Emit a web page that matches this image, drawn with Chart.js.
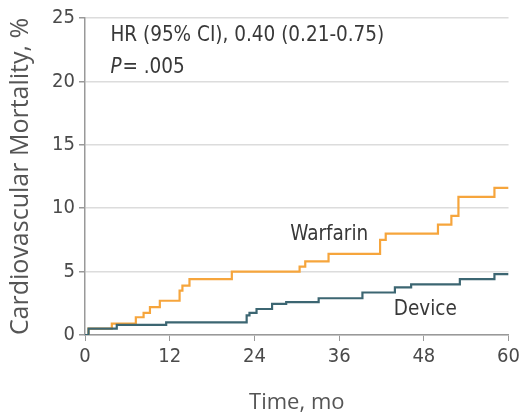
<!DOCTYPE html>
<html>
<head>
<meta charset="utf-8">
<script src="https://cdn.jsdelivr.net/npm/chart.js@4"></script>
<style>
  html, body { margin: 0; padding: 0; background: #fff; }
  #wrap { width: 524px; height: 420px; }
</style>
</head>
<body>
<div id="wrap"><canvas id="kmChart" width="524" height="420"></canvas></div>
<script>
// step points (months, %)
const warfarinTime = [0, 0.5, 3.8, 7.2, 8.3, 9.2, 10.6, 13.4, 13.8, 14.8, 20.8, 30.4, 31.2, 34.5, 41.8, 42.6, 50.0, 51.9, 52.9, 58.0, 60];
const warfarinPct  = [0, 0.5, 0.9, 1.4, 1.75, 2.2, 2.7, 3.5, 3.9, 4.4, 5.0, 5.4, 5.8, 6.4, 7.5, 8.0, 8.7, 9.4, 10.9, 11.6, 11.6];
const deviceTime = [0, 0.5, 4.5, 11.5, 22.9, 23.3, 24.3, 26.5, 28.5, 33.1, 39.3, 43.9, 46.2, 53.1, 58.0, 60];
const devicePct  = [0, 0.5, 0.8, 1.0, 1.55, 1.75, 2.05, 2.45, 2.6, 2.9, 3.35, 3.75, 4.0, 4.4, 4.8, 4.8];
const xTicks = [0, 12, 24, 36, 48, 60];
const yTicks = [0, 5, 10, 15, 20, 25];

const FONT = "'DejaVu Sans Condensed', 'Open Sans', sans-serif";
const TITLE_FONT = "'Open Sans', 'DejaVu Sans', sans-serif";
const TEXT = '#4a4a4a';

function toPoints(xs, ys) {
    return xs.map((x, i) => ({ x: x, y: ys[i] }));
}

// labels written inside the plot
const notes = {
    id: 'notes',
    afterDatasetsDraw(chart) {
        const ctx = chart.ctx;
        const x = chart.scales.x, y = chart.scales.y;
        ctx.save();
        ctx.fillStyle = '#383838';
        ctx.textBaseline = 'middle';
        ctx.font = '20.5px ' + FONT;
        ctx.textAlign = 'left';
        ctx.fillText('HR (95% CI), 0.40 (0.21-0.75)', x.getPixelForValue(3.6), y.getPixelForValue(23.6));
        ctx.font = 'italic 20.5px ' + FONT;
        ctx.fillText('P', x.getPixelForValue(3.6), y.getPixelForValue(21.1));
        ctx.font = '20.5px ' + FONT;
        ctx.fillText('= .005', x.getPixelForValue(5.3), y.getPixelForValue(21.1));
        ctx.textAlign = 'center';
        ctx.fillText('Warfarin', x.getPixelForValue(34.6), y.getPixelForValue(7.9));
        ctx.fillText('Device', x.getPixelForValue(48.2), y.getPixelForValue(2.0));
        ctx.restore();
    }
};

new Chart(document.getElementById('kmChart'), {
    type: 'line',
    data: {
        datasets: [{
            label: 'Warfarin',
            data: toPoints(warfarinTime, warfarinPct),
            borderColor: '#F6A53C',
            borderWidth: 2.2,
            stepped: true,
            pointRadius: 0,
            order: 1
        }, {
            label: 'Device',
            data: toPoints(deviceTime, devicePct),
            borderColor: '#3C6672',
            borderWidth: 2.2,
            stepped: true,
            pointRadius: 0,
            order: 0
        }]
    },
    options: {
        responsive: false,
        animation: false,
        layout: { padding: { top: 18, right: 13, left: 0, bottom: 0 } },
        plugins: { legend: { display: false }, tooltip: { enabled: false } },
        scales: {
            x: {
                type: 'linear',
                min: 0, max: 60,
                afterBuildTicks: s => { s.ticks = xTicks.map(v => ({ value: v })); },
                afterFit: s => { s.height = 85; },
                grid: { drawOnChartArea: false, drawTicks: true, tickLength: 6, tickColor: '#999' },
                border: { color: '#999', width: 1.5 },
                ticks: { color: TEXT, font: { family: FONT, size: 20 }, padding: 4 },
                title: { display: true, text: 'Time, mo', color: '#555', font: { family: TITLE_FONT, size: 22 }, padding: { top: 0 } }
            },
            y: {
                min: 0, max: 25,
                afterBuildTicks: s => { s.ticks = yTicks.map(v => ({ value: v })); },
                afterFit: s => { s.width = 85; },
                grid: { color: '#dcdcdc', lineWidth: 1.5, drawTicks: true, tickLength: 6, tickColor: '#999' },
                border: { color: '#999', width: 1.5 },
                ticks: { color: TEXT, font: { family: FONT, size: 20 }, padding: 4 },
                title: { display: true, text: 'Cardiovascular Mortality, %', color: '#555', font: { family: TITLE_FONT, size: 25 }, padding: { top: 6, bottom: 0 } }
            }
        }
    },
    plugins: [notes]
});
</script>
</body>
</html>
